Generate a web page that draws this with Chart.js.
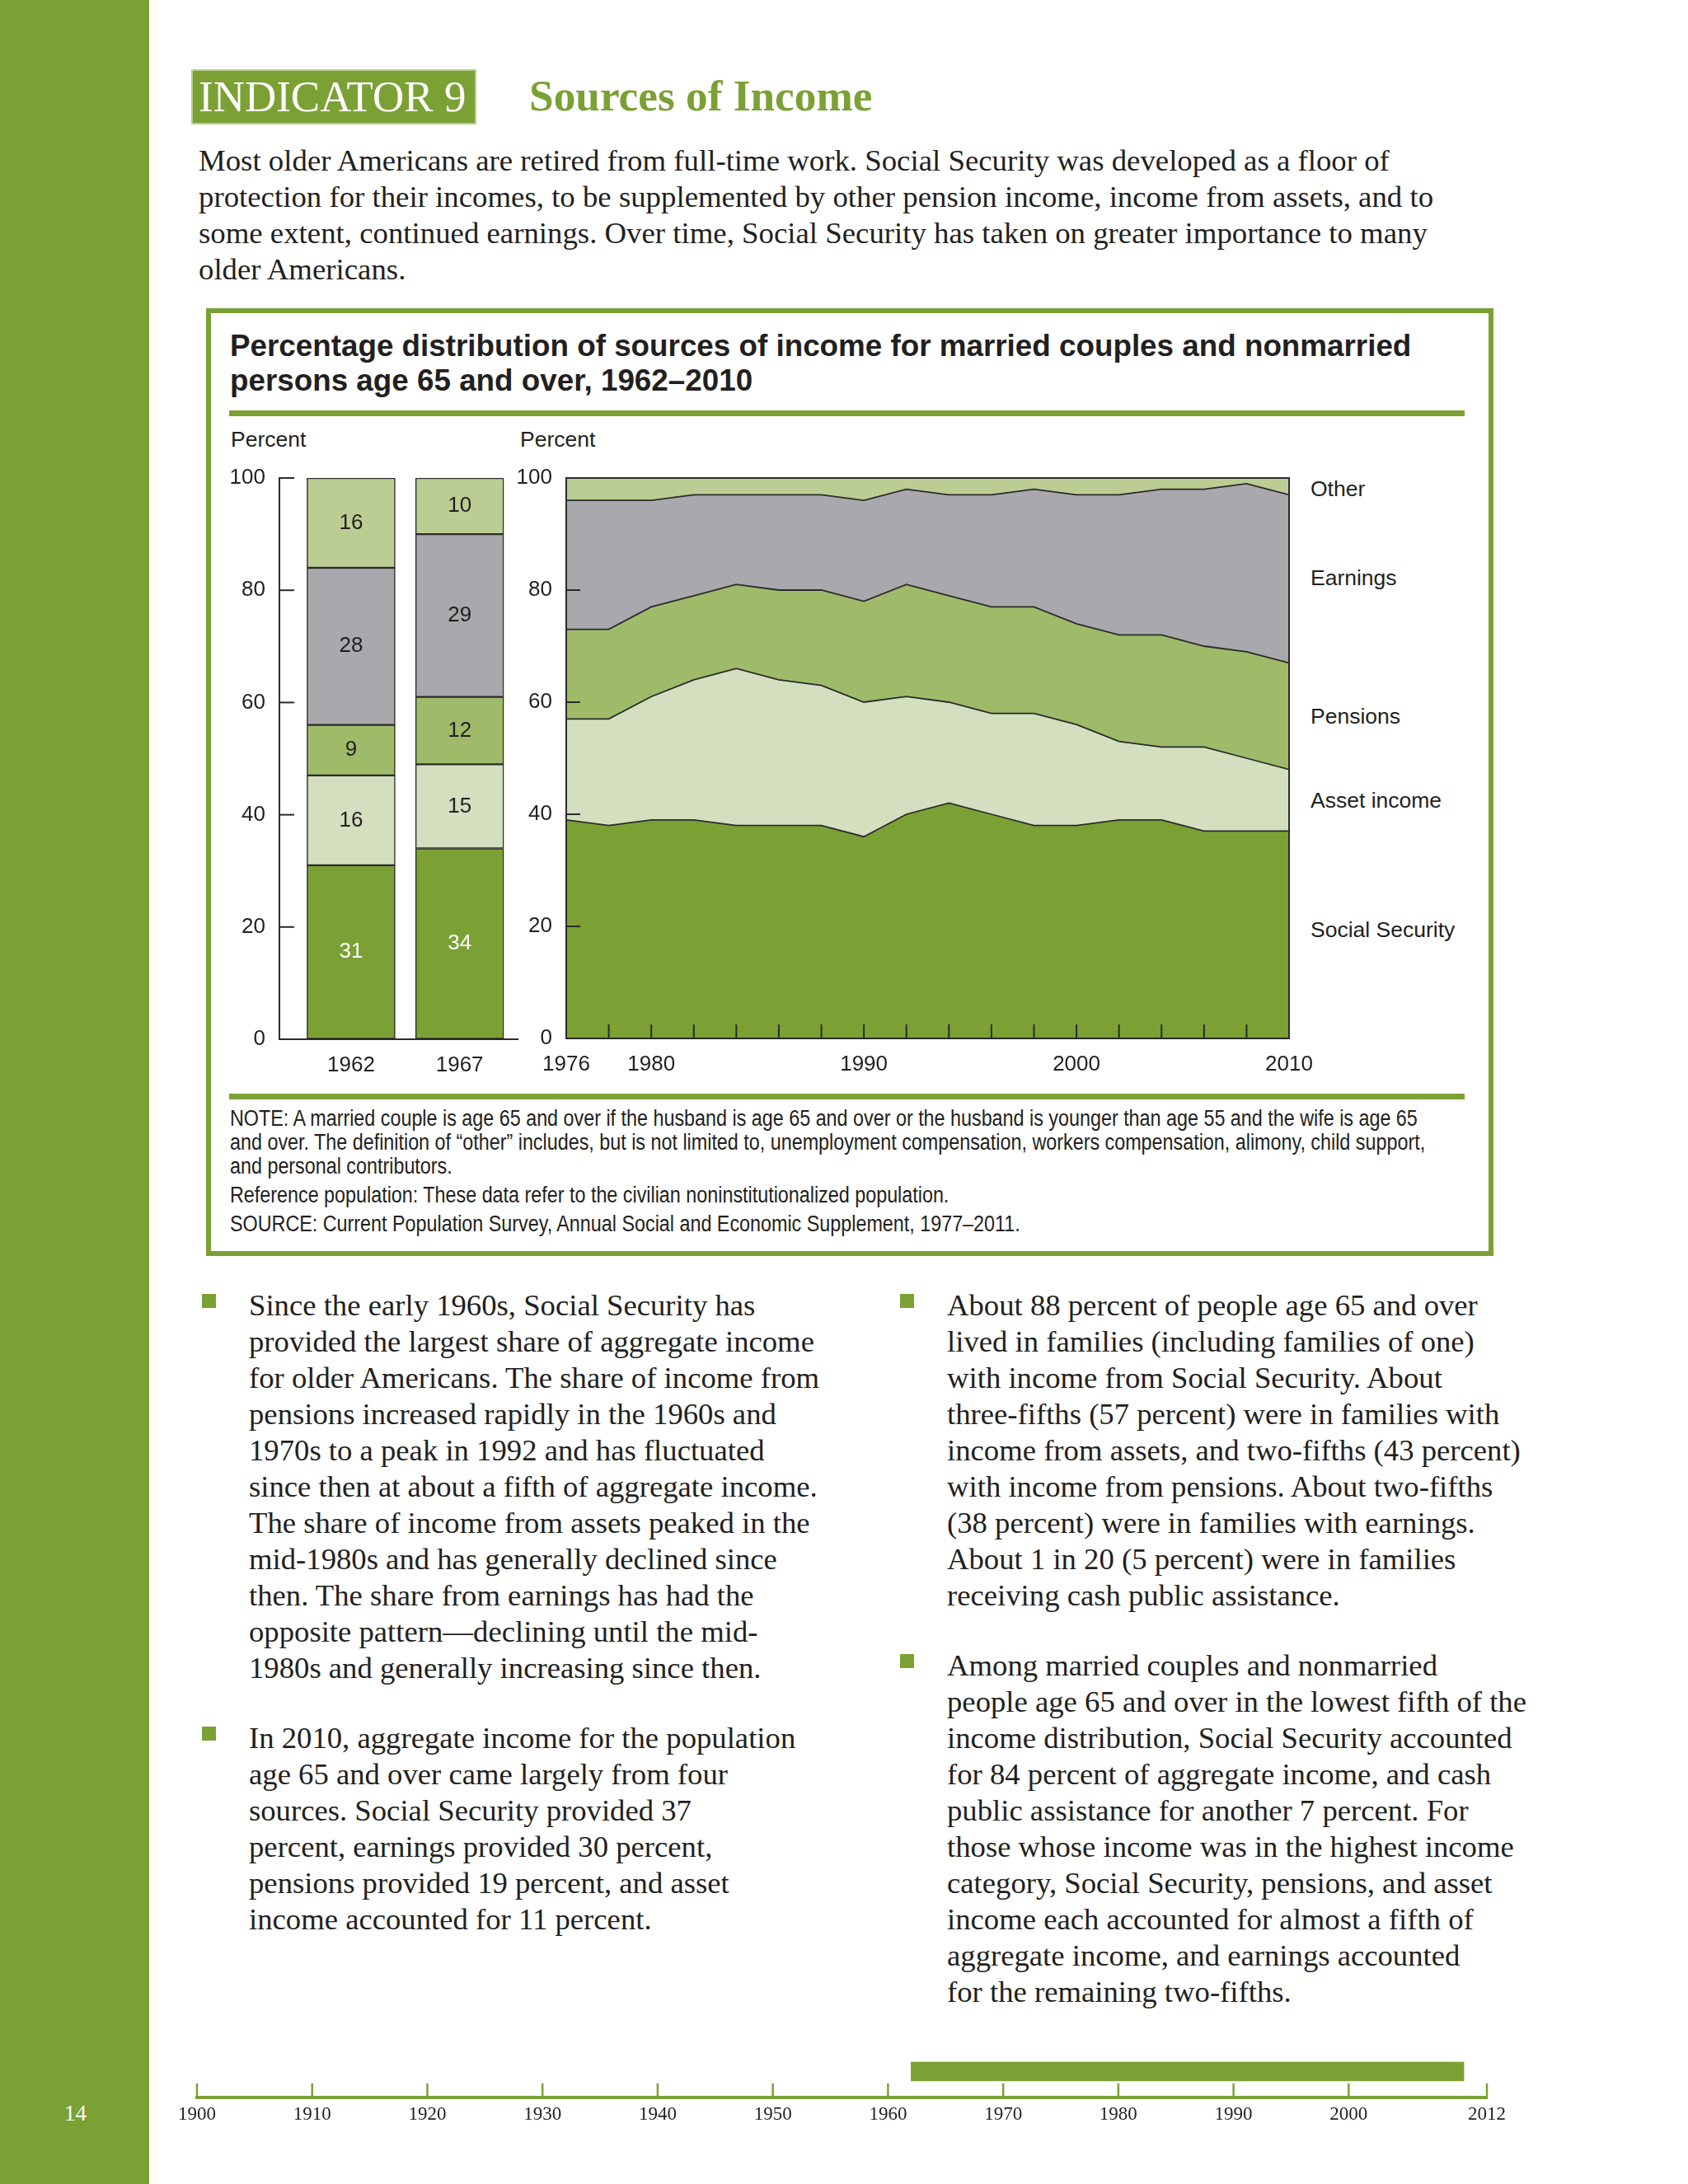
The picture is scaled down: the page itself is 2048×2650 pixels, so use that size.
<!DOCTYPE html>
<html lang="en">
<head>
<meta charset="UTF-8">
<title>Indicator 9: Sources of Income</title>
<script src="https://cdn.jsdelivr.net/npm/chart.js"></script>
<style>
  body { margin:0; width:2048px; height:2650px; position:relative; overflow:hidden; background:#fff;
         font-family:"Liberation Serif", "Times New Roman", serif; color:#231f20; }
  .abs { position:absolute; white-space:nowrap; }
  .sidebar { left:0; top:0; width:181px; height:2650px; background:#7ba135; }
  .pagenum { left:78px; top:2548px; color:#fff; font-size:27px; line-height:32px; }
  .indicator { left:232px; top:84px; width:346px; height:67px; background:#7ba135; color:#fff;
               font-size:53px; line-height:67px; padding-left:9px; box-sizing:border-box;
               outline:2px solid #b9cf8e; outline-offset:-2px; }
  .title { left:642px; top:83px; font-size:53.3px; line-height:67px; font-weight:bold; color:#7ba135; }
  .intro { left:241px; top:172.6px; font-size:36.8px; line-height:44px; }
  .box { left:250px; top:374px; width:1562px; height:1150px; border:6px solid #7ba135; box-sizing:border-box; }
  .rule { left:278px; width:1499px; height:7px; background:#7ba135; }
  .ctitle { left:279px; top:398.5px; font-family:"Liberation Sans", Arial, sans-serif; font-weight:bold;
            font-size:36.8px; line-height:42px; color:#231f20; }
  .lab { font-family:"Liberation Sans", Arial, sans-serif; font-size:26.5px; line-height:30px; color:#231f20; }
  .notes { left:279px; top:1343px; font-family:"Liberation Sans", Arial, sans-serif;
           font-size:27px; line-height:29px; color:#231f20;
           transform:scaleX(0.864); transform-origin:0 0; }
  .notes p { margin:0 0 6px 0; }
  .col { font-size:36.7px; line-height:44px; }
  .col p { margin:0 0 41px 0; position:relative; }
  .col p::before { content:""; position:absolute; left:-57px; top:8.5px; width:17px; height:17px; background:#7ba135; }
  .chartbox { position:absolute; }
</style>
</head>
<body>
<div class="abs sidebar"></div>
<div class="abs pagenum">14</div>

<div class="abs indicator">INDICATOR 9</div>
<div class="abs title">Sources of Income</div>

<div class="abs intro">
Most older Americans are retired from full-time work. Social Security was developed as a floor of<br>
protection for their incomes, to be supplemented by other pension income, income from assets, and to<br>
some extent, continued earnings. Over time, Social Security has taken on greater importance to many<br>
older Americans.
</div>

<div class="abs box"></div>
<div class="abs ctitle">Percentage distribution of sources of income for married couples and nonmarried<br>persons age 65 and over, 1962–2010</div>
<div class="abs rule" style="top:498px"></div>
<div class="abs rule" style="top:1327px"></div>

<div class="abs lab" style="left:280px; top:518px">Percent</div>
<div class="abs lab" style="left:631px; top:518px">Percent</div>
<div class="abs lab" style="left:1590px; top:578px">Other</div>
<div class="abs lab" style="left:1590px; top:686px">Earnings</div>
<div class="abs lab" style="left:1590px; top:854px">Pensions</div>
<div class="abs lab" style="left:1590px; top:956px">Asset income</div>
<div class="abs lab" style="left:1590px; top:1113px">Social Security</div>

<div class="chartbox" style="left:250px; top:520px; width:395px; height:810px"><canvas id="barChart"></canvas></div>
<div class="chartbox" style="left:600px; top:520px; width:1020px; height:810px"><canvas id="areaChart"></canvas></div>

<div class="abs notes">
<p>NOTE: A married couple is age 65 and over if the husband is age 65 and over or the husband is younger than age 55 and the wife is age 65<br>
and over. The definition of “other” includes, but is not limited to, unemployment compensation, workers compensation, alimony, child support,<br>
and personal contributors.</p>
<p>Reference population: These data refer to the civilian noninstitutionalized population.</p>
<p>SOURCE: Current Population Survey, Annual Social and Economic Supplement, 1977–2011.</p>
</div>

<div class="abs col" style="left:302px; top:1561.5px">
<p>Since the early 1960s, Social Security has<br>
provided the largest share of aggregate income<br>
for older Americans. The share of income from<br>
pensions increased rapidly in the 1960s and<br>
1970s to a peak in 1992 and has fluctuated<br>
since then at about a fifth of aggregate income.<br>
The share of income from assets peaked in the<br>
mid-1980s and has generally declined since<br>
then. The share from earnings has had the<br>
opposite pattern—declining until the mid-<br>
1980s and generally increasing since then.</p>
<p>In 2010, aggregate income for the population<br>
age 65 and over came largely from four<br>
sources. Social Security provided 37<br>
percent, earnings provided 30 percent,<br>
pensions provided 19 percent, and asset<br>
income accounted for 11 percent.</p>
</div>

<div class="abs col" style="left:1149px; top:1561.5px">
<p>About 88 percent of people age 65 and over<br>
lived in families (including families of one)<br>
with income from Social Security. About<br>
three-fifths (57 percent) were in families with<br>
income from assets, and two-fifths (43 percent)<br>
with income from pensions. About two-fifths<br>
(38 percent) were in families with earnings.<br>
About 1 in 20 (5 percent) were in families<br>
receiving cash public assistance.</p>
<p>Among married couples and nonmarried<br>
people age 65 and over in the lowest fifth of the<br>
income distribution, Social Security accounted<br>
for 84 percent of aggregate income, and cash<br>
public assistance for another 7 percent. For<br>
those whose income was in the highest income<br>
category, Social Security, pensions, and asset<br>
income each accounted for almost a fifth of<br>
aggregate income, and earnings accounted<br>
for the remaining two-fifths.</p>
</div>

<div class="chartbox" style="left:200px; top:2470px; width:1650px; height:130px"><canvas id="timelineChart"></canvas></div>

<script>
  // 1962 and 1967 bars
  const barYears = [1962, 1967];
  const barSocialSecurity = [31, 34];
  const barAssetIncome = [16, 15];
  const barPensions = [9, 12];
  const barEarnings = [28, 29];
  const barOther = [16, 10];

  // 1976-2010 stacked area
  const years = [1976, 1978, 1980, 1982, 1984, 1986, 1988, 1990, 1992, 1994, 1996, 1998, 2000, 2002, 2004, 2006, 2008, 2010];
  const socialSecurity = [39, 38, 39, 39, 38, 38, 38, 36, 40, 42, 40, 38, 38, 39, 39, 37, 37, 37];
  const assetIncome    = [18, 19, 22, 25, 28, 26, 25, 24, 21, 18, 18, 20, 18, 14, 13, 15, 13, 11];
  const pensions       = [16, 16, 16, 15, 15, 16, 17, 18, 20, 19, 19, 19, 18, 19, 20, 18, 19, 19];
  const earnings       = [23, 23, 19, 18, 16, 17, 17, 18, 17, 18, 20, 21, 23, 25, 26, 28, 30, 30];
  const other          = [ 4,  4,  4,  3,  3,  3,  3,  4,  2,  3,  3,  2,  3,  3,  2,  2,  1,  3];
  const areaTickYears = [1976, 1980, 1990, 2000, 2010];
  const percentTicks = [0, 20, 40, 60, 80, 100];

  // page timeline
  const timelineTicks = [1900, 1910, 1920, 1930, 1940, 1950, 1960, 1970, 1980, 1990, 2000, 2012];
  const timelineRange = [1962, 2010];

  const colors = {
    ss: '#7ba135', asset: '#d3dfbe', pensions: '#9fbb6a', earnings: '#a8a8ad', other: '#bccd93',
    line: '#2b2b2b', text: '#231f20'
  };

  Chart.defaults.font.family = '"Liberation Sans", Arial, sans-serif';
  Chart.defaults.font.size = 26;
  Chart.defaults.color = colors.text;
  Chart.defaults.animation = false;

  // short tick marks drawn on the inside of the axes
  const inwardTicks = {
    id: 'inwardTicks',
    afterDatasetsDraw(chart, args, opts) {
      const ctx = chart.ctx;
      const area = chart.chartArea;
      ctx.save();
      ctx.strokeStyle = opts.color;
      ctx.lineWidth = opts.width;
      (opts.y || []).forEach(v => {
        const py = chart.scales.y.getPixelForValue(v);
        ctx.beginPath(); ctx.moveTo(area.left, py); ctx.lineTo(area.left + opts.length, py); ctx.stroke();
      });
      (opts.x || []).forEach(v => {
        const px = chart.scales.x.getPixelForValue(v);
        ctx.beginPath(); ctx.moveTo(px, area.bottom); ctx.lineTo(px, area.bottom - opts.length); ctx.stroke();
      });
      if (opts.frame) {
        ctx.strokeRect(area.left, area.top, area.right - area.left, area.bottom - area.top);
      }
      ctx.restore();
    }
  };

  const barLabels = {
    id: 'barLabels',
    afterDatasetsDraw(chart) {
      const ctx = chart.ctx;
      ctx.save();
      ctx.font = '26px "Liberation Sans", Arial, sans-serif';
      ctx.textAlign = 'center';
      ctx.textBaseline = 'middle';
      chart.data.datasets.forEach((ds, di) => {
        chart.getDatasetMeta(di).data.forEach((bar, i) => {
          const p = bar.getProps(['x', 'y', 'base'], true);
          ctx.fillStyle = ds.labelColor;
          ctx.fillText(ds.data[i].y, p.x, (p.y + p.base) / 2);
        });
      });
      ctx.restore();
    }
  };

  const fixWidth = w => scale => { scale.width = w; };
  const fixHeight = h => scale => { scale.height = h; };
  const setTicks = list => scale => { scale.ticks = list.map(v => ({ value: v })); };

  function barSet(label, values, color, labelColor) {
    return {
      label, labelColor,
      data: barYears.map((yr, i) => ({ x: yr, y: values[i] })),
      backgroundColor: color,
      borderColor: colors.line,
      borderWidth: 1.5,
      borderSkipped: false,
      barThickness: 107
    };
  }

  new Chart(document.getElementById('barChart'), {
    type: 'bar',
    data: {
      datasets: [
        barSet('Social Security', barSocialSecurity, colors.ss, '#ffffff'),
        barSet('Asset income', barAssetIncome, colors.asset, colors.text),
        barSet('Pensions', barPensions, colors.pensions, colors.text),
        barSet('Earnings', barEarnings, colors.earnings, colors.text),
        barSet('Other', barOther, colors.other, colors.text)
      ]
    },
    options: {
      responsive: true,
      maintainAspectRatio: false,
      layout: { padding: { top: 60, right: 17, bottom: 0, left: 0 } },
      plugins: {
        legend: { display: false },
        tooltip: { enabled: false },
        inwardTicks: { y: percentTicks, length: 18, color: colors.line, width: 2 }
      },
      scales: {
        x: {
          type: 'linear', stacked: true, offset: false, min: 1958.7, max: 1969.67,
          afterBuildTicks: setTicks(barYears),
          afterFit: fixHeight(69),
          grid: { display: true, drawOnChartArea: false, drawTicks: false },
          border: { display: true, color: colors.line, width: 2 },
          ticks: { padding: 16, autoSkip: false, maxRotation: 0, callback: v => String(v) }
        },
        y: {
          stacked: true, min: 0, max: 100,
          afterBuildTicks: setTicks(percentTicks),
          afterFit: fixWidth(89),
          grid: { display: true, drawOnChartArea: false, drawTicks: false },
          border: { display: true, color: colors.line, width: 2 },
          ticks: { padding: 17 }
        }
      }
    },
    plugins: [inwardTicks, barLabels]
  });

  function areaSet(label, values, color, fill) {
    return {
      label,
      data: years.map((yr, i) => ({ x: yr, y: values[i] })),
      backgroundColor: color,
      borderColor: colors.line,
      borderWidth: 1.8,
      pointRadius: 0,
      tension: 0,
      fill
    };
  }

  new Chart(document.getElementById('areaChart'), {
    type: 'line',
    data: {
      datasets: [
        areaSet('Social Security', socialSecurity, colors.ss, 'origin'),
        areaSet('Asset income', assetIncome, colors.asset, '-1'),
        areaSet('Pensions', pensions, colors.pensions, '-1'),
        areaSet('Earnings', earnings, colors.earnings, '-1'),
        areaSet('Other', other, colors.other, '-1')
      ]
    },
    options: {
      responsive: true,
      maintainAspectRatio: false,
      layout: { padding: { top: 60, right: 56, bottom: 0, left: 0 } },
      plugins: {
        legend: { display: false },
        tooltip: { enabled: false },
        inwardTicks: {
          y: [20, 40, 60, 80], x: years.slice(1, -1),
          length: 17, color: colors.line, width: 2, frame: true
        }
      },
      scales: {
        x: {
          type: 'linear', min: 1976, max: 2010,
          afterBuildTicks: setTicks(areaTickYears),
          afterFit: fixHeight(70),
          grid: { display: false, drawTicks: false },
          border: { display: false },
          ticks: { padding: 16, autoSkip: false, maxRotation: 0, callback: v => String(v) }
        },
        y: {
          stacked: true, min: 0, max: 100,
          afterBuildTicks: setTicks(percentTicks),
          afterFit: fixWidth(87),
          grid: { display: false, drawTicks: false },
          border: { display: false },
          ticks: { padding: 17 }
        }
      }
    },
    plugins: [inwardTicks]
  });

  new Chart(document.getElementById('timelineChart'), {
    type: 'bar',
    data: {
      labels: [''],
      datasets: [{
        data: [timelineRange],
        backgroundColor: colors.ss,
        borderWidth: 0,
        barThickness: 23
      }]
    },
    options: {
      indexAxis: 'y',
      responsive: true,
      maintainAspectRatio: false,
      layout: { padding: { top: 12, right: 46, bottom: 0, left: 39 } },
      plugins: {
        legend: { display: false },
        tooltip: { enabled: false },
        inwardTicks: { x: timelineTicks, length: 17, color: colors.ss, width: 2.5 }
      },
      scales: {
        x: {
          type: 'linear', min: 1900, max: 2012,
          afterBuildTicks: setTicks(timelineTicks),
          afterFit: fixHeight(55),
          grid: { display: false, drawTicks: false },
          border: { display: true, color: colors.ss, width: 4 },
          ticks: {
            padding: 7, autoSkip: false, maxRotation: 0, callback: v => String(v),
            font: { family: '"Liberation Serif", "Times New Roman", serif', size: 23 }
          }
        },
        y: { display: false }
      }
    },
    plugins: [inwardTicks]
  });
</script>
</body>
</html>
